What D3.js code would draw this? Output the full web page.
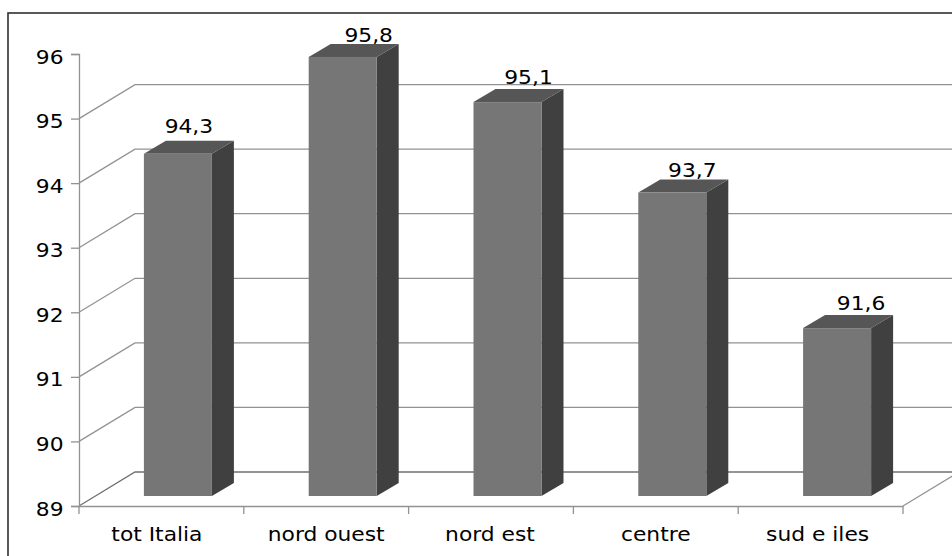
<!DOCTYPE html>
<html>
<head>
<meta charset="utf-8">
<script src="https://cdn.jsdelivr.net/npm/d3@7"></script>
<style>
  html, body { margin: 0; padding: 0; background: #fff; }
  svg { display: block; }
  text { font-family: "DejaVu Sans", sans-serif; fill: #000; font-size: 20px; }
</style>
</head>
<body>
<svg id="chart" width="952" height="556"></svg>
<script>
const categories = ["tot Italia", "nord ouest", "nord est", "centre", "sud e iles"];
const values = [94.3, 95.8, 95.1, 93.7, 91.6];
const valueLabels = ["94,3", "95,8", "95,1", "93,7", "91,6"];
const yTicks = [89, 90, 91, 92, 93, 94, 95, 96];

// Horizontal / vertical shift of each value label away from its bar's top edge
const labelShiftX = [11, 26, 21, 20, 24];
const labelShiftY = [-21, -15, -18, -16, -18];
// Horizontal nudge of each category label from its band centre
const categoryShiftX = [-4.5, 0, -1, 0, -3];

const svg = d3.select("#chart");
const W = 952, H = 556;

// All text is set slightly wide
const textStretch = 1.09;

// Plot box of the front plane, plus the oblique depth of the chart floor
const plotLeft = 79, plotRight = 903, plotBottom = 506, plotTop = 54;
const depth = { x: 56, y: -34 };

// Bars stand part way into the floor
const barInset = { x: 16.5, y: -10 };
const barSide = { x: 22, y: -13 };
const barWidth = 68;

const x = d3.scaleBand().domain(categories).range([plotLeft, plotRight]);
const y = d3.scaleLinear().domain([89, 96]).range([plotBottom, plotTop]);

// Outer frame
svg.append("rect")
  .attr("x", 8).attr("y", 13).attr("width", W + 10).attr("height", H + 10)
  .attr("fill", "#fff").attr("stroke", "#303030").attr("stroke-width", 1.6);

const gridColor = "#929292";

const plot = svg.append("g");

// Back wall gridlines with their oblique runs on the side wall
const backTicks = yTicks.slice(0, -1);
plot.selectAll("path.grid").data(backTicks).join("path")
  .attr("class", "grid")
  .attr("fill", "none")
  .attr("stroke", d => d === 89 ? "#707070" : gridColor)
  .attr("stroke-width", 1.3)
  .attr("d", d => d3.line()([
    [plotLeft, y(d)],
    [plotLeft + depth.x, y(d) + depth.y],
    [W, y(d) + depth.y]
  ]));

// Right-hand edge of the floor, running off the frame
plot.append("path")
  .attr("fill", "none").attr("stroke", gridColor).attr("stroke-width", 1.3)
  .attr("d", d3.line()([[plotRight, plotBottom], [plotRight + depth.x, plotBottom + depth.y]]));

// Value axis, drawn on the front plane
const yAxis = d3.axisLeft(y).tickValues(yTicks).tickSize(8).tickFormat(d3.format("d"));
const gy = plot.append("g").attr("transform", `translate(${plotLeft},0)`).call(yAxis);
gy.selectAll(".domain, .tick line").attr("stroke", gridColor).attr("stroke-width", 1.3);
gy.selectAll("text")
  .attr("x", null).attr("dy", null)
  .attr("text-anchor", "end")
  .attr("fill", "#000")
  .attr("transform", `translate(-15.5,9) scale(${textStretch},1)`);

// Category axis, with ticks at the band boundaries
const xAxis = d3.axisBottom(x).tickSize(0);
const gx = plot.append("g").attr("transform", `translate(0,${plotBottom})`).call(xAxis);
gx.selectAll(".domain").attr("stroke", gridColor).attr("stroke-width", 1.3);
gx.selectAll("text")
  .attr("y", null).attr("dy", null)
  .attr("fill", "#000")
  .attr("transform", (d, i) => `translate(${categoryShiftX[i]},35) scale(${textStretch},1)`);
gx.selectAll("line.boundary")
  .data([...categories.map(c => x(c)), plotRight])
  .join("line")
  .attr("class", "boundary")
  .attr("x1", d => d).attr("x2", d => d)
  .attr("y1", 0).attr("y2", 8)
  .attr("stroke", gridColor).attr("stroke-width", 1.3);

// Extruded columns: front, side, top
const bars = svg.selectAll("g.bar")
  .data(categories.map((c, i) => ({ c, v: values[i], label: valueLabels[i], i })))
  .join("g").attr("class", "bar");

const x0 = d => x(d.c) + x.bandwidth() / 2 + barInset.x - barWidth / 2;
const base = plotBottom + barInset.y;
const topY = d => y(d.v) + barInset.y;

bars.append("path")
  .attr("fill", "#404040")
  .attr("d", d => {
    const r = x0(d) + barWidth;
    return d3.line()([
      [r, topY(d)], [r + barSide.x, topY(d) + barSide.y],
      [r + barSide.x, base + barSide.y], [r, base]
    ]) + "Z";
  });

bars.append("path")
  .attr("fill", "#565656")
  .attr("d", d => {
    const l = x0(d), r = l + barWidth;
    return d3.line()([
      [l, topY(d)], [r, topY(d)],
      [r + barSide.x, topY(d) + barSide.y], [l + barSide.x, topY(d) + barSide.y]
    ]) + "Z";
  });

bars.append("rect")
  .attr("fill", "#767676")
  .attr("x", x0).attr("width", barWidth)
  .attr("y", topY).attr("height", d => base - topY(d));

bars.append("text")
  .attr("text-anchor", "middle")
  .attr("transform", d => {
    const lx = x0(d) + barWidth / 2 + labelShiftX[d.i];
    const ly = topY(d) + labelShiftY[d.i];
    return `translate(${lx},${ly}) scale(${textStretch},1)`;
  })
  .text(d => d.label);
</script>
</body>
</html>
